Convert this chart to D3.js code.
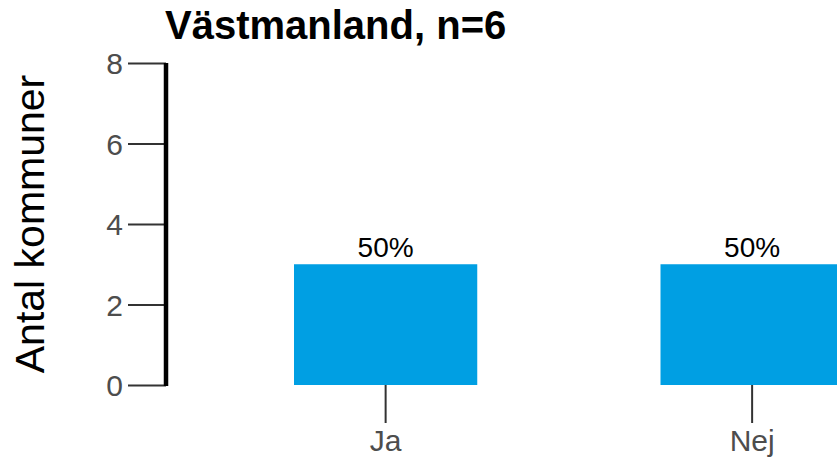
<!DOCTYPE html>
<html>
<head>
<meta charset="utf-8">
<script src="https://cdn.jsdelivr.net/npm/d3@7"></script>
<style>
  html, body { margin: 0; padding: 0; background: #fff; }
  svg { display: block; font-family: "Liberation Sans", Arial, sans-serif; }
</style>
</head>
<body>
<svg id="chart" width="837" height="464"></svg>
<script>
const title = "Västmanland, n=6";
const yLabel = "Antal kommuner";
const categories = ["Ja", "Nej"];
const values = [3, 3];
const percentLabels = ["50%", "50%"];
const yTicks = [0, 2, 4, 6, 8];

const svg = d3.select("#chart");

const x = d3.scaleBand().domain(categories).range([110.75, 1027]).paddingInner(0.5).paddingOuter(0.5);
const y = d3.scaleLinear().domain([0, 8]).range([385, 63]);

// bars
svg.append("g").selectAll("rect").data(categories).join("rect")
  .attr("x", d => x(d))
  .attr("y", (d, i) => y(values[i]))
  .attr("width", x.bandwidth())
  .attr("height", (d, i) => y(0) - y(values[i]))
  .attr("fill", "#009fe3");

// bar labels
svg.append("g").selectAll("text").data(categories).join("text")
  .attr("x", d => x(d) + x.bandwidth() / 2)
  .attr("y", (d, i) => y(values[i]) - 7)
  .attr("text-anchor", "middle")
  .attr("font-size", 28)
  .attr("fill", "#000")
  .text((d, i) => percentLabels[i]);

// y axis
const yAxis = svg.append("g").attr("transform", "translate(166,0)")
  .call(d3.axisLeft(y).tickValues(yTicks).tickSize(38).tickPadding(5).tickFormat(d3.format("d")));
yAxis.select(".domain").remove();
yAxis.selectAll(".tick line").attr("stroke", "#333").attr("stroke-width", 2);
yAxis.selectAll(".tick text").attr("font-size", 30).attr("fill", "#4d4d4d")
  .attr("font-family", "Liberation Sans, Arial, sans-serif").attr("dy", "0.36em");
svg.append("line")
  .attr("x1", 166).attr("x2", 166)
  .attr("y1", y(8)).attr("y2", y(0) + 1)
  .attr("stroke", "#000").attr("stroke-width", 4.5);

// x axis
const xAxis = svg.append("g").attr("transform", `translate(0,${y(0)})`)
  .call(d3.axisBottom(x).tickSize(38).tickPadding(7));
xAxis.select(".domain").remove();
xAxis.selectAll(".tick line").attr("stroke", "#333").attr("stroke-width", 2);
xAxis.selectAll(".tick text").attr("font-size", 30).attr("fill", "#4d4d4d")
  .attr("font-family", "Liberation Sans, Arial, sans-serif");

// title
svg.append("text")
  .attr("x", 165).attr("y", 39)
  .attr("font-size", 40).attr("font-weight", "bold").attr("fill", "#000")
  .text(title);

// y label
svg.append("text")
  .attr("transform", `translate(44,${(y(0) + y(8)) / 2}) rotate(-90)`)
  .attr("text-anchor", "middle")
  .attr("font-size", 41).attr("fill", "#000")
  .text(yLabel);
</script>
</body>
</html>
